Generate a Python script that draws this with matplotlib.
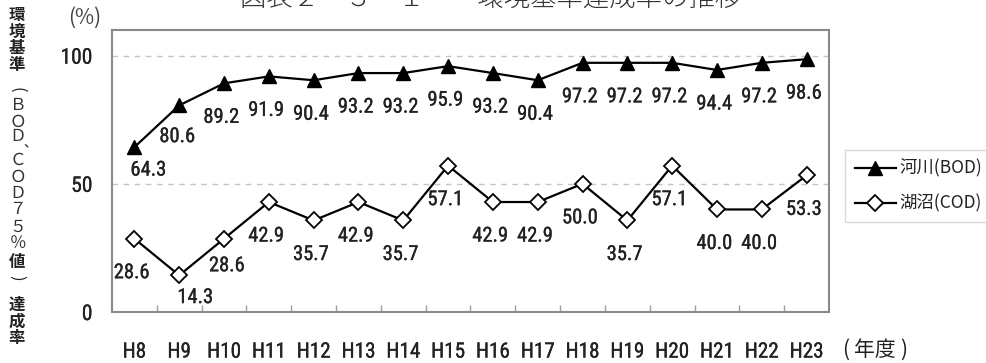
import matplotlib
matplotlib.use("Agg")
import matplotlib.pyplot as plt
from matplotlib import font_manager as fm
from matplotlib import patheffects as pe
from matplotlib.font_manager import FontProperties
from matplotlib.textpath import TextPath
import numpy as np

# ---- data -------------------------------------------------------------
years = ["H8", "H9", "H10", "H11", "H12", "H13", "H14", "H15",
         "H16", "H17", "H18", "H19", "H20", "H21", "H22", "H23"]
bod_rate = [64.3, 80.6, 89.2, 91.9, 90.4, 93.2, 93.2, 95.9,
            93.2, 90.4, 97.2, 97.2, 97.2, 94.4, 97.2, 98.6]
cod_rate = [28.6, 14.3, 28.6, 42.9, 35.7, 42.9, 35.7, 57.1,
            42.9, 42.9, 50.0, 35.7, 57.1, 40.0, 40.0, 53.3]
y_ticks = [0, 50, 100]
series_names = ["河川(BOD)", "湖沼(COD)"]

# ---- fonts ------------------------------------------------------------
LATIN = ("DejaVu Sans", "Liberation Sans", "Noto Sans", "Roboto",
         "Open Sans", "Lato", "Inter")
SAMPLE, SAMPLE_W, DIGIT_H = "28.6", 32.0, 15.0   # narrow, tall figures


def pick_number_font():
    """Regular-weight sans whose figures are the most narrow-and-tall."""
    best, seen = None, set()
    for f in fm.fontManager.ttflist:
        if f.fname in seen:
            continue
        seen.add(f.fname)
        ok_name = f.name in LATIN or (
            f.name.startswith(LATIN) and
            any(k in f.name for k in ("Condensed", "Narrow")))
        if not ok_name or f.style != "normal" or f.weight not in (400, "normal", "regular"):
            continue
        try:
            fp = FontProperties(fname=f.fname)
            w = TextPath((0, 0), SAMPLE, size=100, prop=fp).get_extents().width
            h = TextPath((0, 0), "8", size=100, prop=fp).get_extents().height
        except Exception:
            continue
        if h <= 0:
            continue
        score = abs(w / h - SAMPLE_W / DIGIT_H)
        if best is None or score < best[0]:
            best = (score, f.fname, w, h)
    return best


_pick = pick_number_font()
NUM_FILE, W100, H100 = _pick[1], _pick[2], _pick[3]


def num_font(scale=1.0):
    size_h = DIGIT_H * 100 / H100
    size_w = SAMPLE_W * 100 / W100
    return FontProperties(fname=NUM_FILE,
                          size=min(size_h, size_w * 1.08) * 0.72 * scale)


HEAVY = [pe.withStroke(linewidth=0.2, foreground="#222222")]
JP = ["Noto Sans CJK JP", "DejaVu Sans"]
TXT = "#222222"

W, H = 987, 363
fig = plt.figure(figsize=(W / 100, H / 100), dpi=100)


def px(x, y):
    """pixel position (from top-left) -> figure fraction"""
    return x / W, 1 - y / H


ax = fig.add_axes([112 / W, (H - 312) / H, (829 - 112) / W, (312 - 30) / H])
x = np.arange(len(years))

ax.plot(x, bod_rate, color="black", lw=1.6, marker="^", ms=10,
        mfc="black", mec="black", label=series_names[0], zorder=4)
ax.plot(x, cod_rate, color="black", lw=1.6, marker="D", ms=8.5,
        mfc="white", mec="black", mew=1.3, label=series_names[1], zorder=4)

ax.set_xlim(-0.5, len(years) - 0.5)
ax.set_ylim(0, 110)

for v in y_ticks[1:]:
    ax.axhline(v, color="#c4c4c4", lw=1.0, ls=(0, (4, 4)), zorder=1)

ax.set_yticks(y_ticks)
ax.set_yticklabels([str(v) for v in y_ticks], fontproperties=num_font(1.05),
                   color=TXT)
ax.tick_params(axis="y", length=0, pad=14)

ax.set_xticks(x)
ax.set_xticklabels(years, fontproperties=num_font(1.03), color=TXT)
ax.tick_params(axis="x", which="major", length=0, pad=22)
ax.set_xticks(x[:-1] + 0.5, minor=True)
ax.tick_params(axis="x", which="minor", direction="in", length=5,
               color="#a0a0a0", width=1)
for lab in ax.get_xticklabels() + ax.get_yticklabels():
    lab.set_path_effects(HEAVY)

for s in ax.spines.values():
    s.set_color("#8a8a8a")
    s.set_linewidth(1.5)

# value labels (offsets in points)
default_off = (-2, -24.5)
bod_off = {0: (10, -16.5), 1: (-1.5, -22.5)}
cod_off = {1: (11.5, -16), 2: (2, -19.5)}
for vals, offs in ((bod_rate, bod_off), (cod_rate, cod_off)):
    for i, v in enumerate(vals):
        dx, dy = offs.get(i, default_off)
        ax.annotate(f"{v:.1f}", (x[i], v), xytext=(dx, dy),
                    textcoords="offset points", ha="center", va="center",
                    fontproperties=num_font(), color=TXT,
                    path_effects=HEAVY)

leg = ax.legend(loc="upper left", bbox_to_anchor=px(845, 150),
                bbox_transform=fig.transFigure, borderaxespad=0,
                prop=FontProperties(family=JP, size=12.5),
                frameon=True, fancybox=False, edgecolor="#d0d0d0",
                handlelength=2.4, handletextpad=0.2, labelspacing=0.95,
                borderpad=0.55)
leg.get_frame().set_linewidth(1.0)
for t in leg.get_texts():
    t.set_color(TXT)

# title (partly above the canvas) and unit labels
fig.text(*px(240, 6), "図表２－３－１　　環境基準達成率の推移", family=JP,
         fontsize=19, color="#333333", ha="left", va="baseline", weight="light")
fig.text(*px(85, 18), "(%)", family=JP, fontsize=15, color="#444444",
         ha="center", va="center")
fig.text(*px(875, 350), "年度", family=JP, fontsize=15, color=TXT,
         ha="center", va="center")
fig.text(*px(846, 350), "(", family=JP, fontsize=15, color=TXT,
         ha="center", va="center")
fig.text(*px(904, 350), ")", family=JP, fontsize=15, color=TXT,
         ha="center", va="center")

# vertical axis title, one character per row
vchars = [("環", 15), ("境", 32), ("基", 48), ("準", 65), ("(", 90),
          ("Ｂ", 105), ("Ｏ", 122), ("Ｄ", 137), ("Ｃ", 160), ("Ｏ", 177),
          ("Ｄ", 193), ("７", 210), ("５", 227), ("％", 243), ("値", 262),
          (")", 278), ("達", 305), ("成", 322), ("率", 338)]
for ch, yy in vchars:
    if ch in "()":
        fig.text(*px(17, yy), ch, family=JP, fontsize=12, color=TXT,
                 ha="center", va="center", rotation=-90)
    elif ch in "ＢＯＤＣ７５％":
        fig.text(*px(18, yy), ch, family=JP, fontsize=12, color="#333333",
                 ha="center", va="center")
    else:
        fig.text(*px(17, yy), ch, family=JP, fontsize=11.8, color=TXT,
                 ha="center", va="center", weight="bold")
fig.text(*px(30, 142), "、", family=JP, fontsize=10, color=TXT,
         ha="center", va="center")

fig.savefig("out.png", dpi=100)
